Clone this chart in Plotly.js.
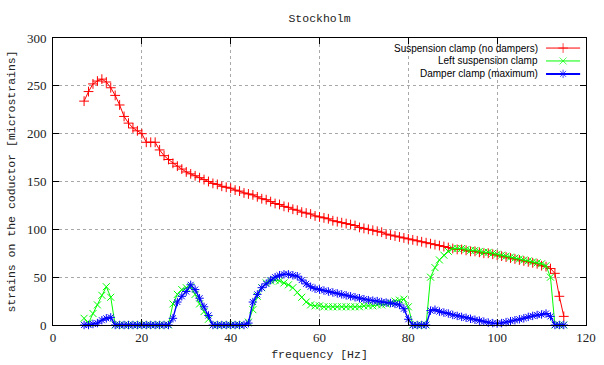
<!DOCTYPE html>
<html>
<head>
<meta charset="utf-8">
<script src="https://cdn.plot.ly/plotly-3.0.1.min.js"></script>
<style>html,body{margin:0;padding:0;background:#fff;}#chart{width:604px;height:365px;}</style>
</head>
<body>
<div id="chart"></div>
<script>
// frequency [Hz]
var freq = [7,8,9,10,11,12,13,14,15,16,
  17,18,19,20,21,22,23,24,25,26,
  27,28,29,30,31,32,33,34,35,36,
  37,38,39,40,41,42,43,44,45,46,
  47,48,49,50,51,52,53,54,55,56,
  57,58,59,60,61,62,63,64,65,66,
  67,68,69,70,71,72,73,74,75,76,
  77,78,79,80,81,82,83,84,85,86,
  87,88,89,90,91,92,93,94,95,96,
  97,98,99,100,101,102,103,104,105,106,
  107,108,109,110,111,112,113,114,115];

// Suspension clamp (no dampers)
var suspension = [234,244,252,255,257,254,248,240,230,218,
  211,206,203,200,191,191,191,183,177,173,
  169,166,163,160,158,156,154,152,150,148,
  147,145,144,143,141,140,138,137,136,134,
  132,131,129,127,126,124,123,121,120,118,
  117,116,114,113,112,111,109,108,107,106,
  105,104,102,101,100,99,98,97,95,94,
  93,92,91,90,89,88,87,86,85,84,
  83,82,81,80,79,79,78,77,77,76,
  75,75,74,73,72,71,70,69,68,67,
  66,65,64,62,61,59,54,30,9];

// Left suspension clamp
var leftClamp = [7,2,12,21,31,40,29,0,0,0,
  0,0,0,0,0,0,0,0,0,0,
  22,32,37,39,40,32,22,14,6,0,
  0,0,0,0,0,0,0,3,16,30,
  39,44,46,47,46,44,42,39,34,29,
  24,21,20,20,19,19,19,19,19,19,
  19,19,19,20,20,20,21,21,22,23,
  25,26,27,19,0,0,0,0,50,60,
  68,73,77,80,80,80,79,78,78,77,
  76,76,75,74,73,72,71,70,69,68,
  67,66,65,64,62,50,0,0,0];

// Damper clamp (maximum)
var damper = [0,0,1,2,5,7,8,0,0,0,
  0,0,0,0,0,0,0,0,0,0,
  7,24,30,35,42,37,28,19,10,0,
  0,0,0,0,0,0,0,2,24,32,
  39,43,47,50,52,53,53,52,51,47,
  43,40,38,37,36,35,34,33,32,31,
  30,29,28,27,26,25.5,25,24,23.5,23,
  22,21,17,6,0,0,0,0,15,16,
  14,13,12,10.5,9.5,8.5,7.5,6.5,5.5,4.5,
  3.5,2.5,2,1.5,2,3,4,5,6,7,
  8.5,9.5,10.5,11,12,9,0,0,0];

var seriesNames = ["Suspension clamp (no dampers)", "Left suspension clamp", "Damper clamp (maximum)"];
var xTicks = [0,20,40,60,80,100,120];
var yTicks = [0,50,100,150,200,250,300];

var colors = ["#ff0000", "#00ff00", "#0000ff"];
var symbols = ["cross-thin-open", "x-thin-open", "asterisk-open"];
var widths = [1, 1, 1.4];
var values = [suspension, leftClamp, damper];

var traces = [];
for (var i = 0; i < 3; i++) {
  traces.push({
    x: freq, y: values[i], type: "scatter", mode: "lines+markers",
    name: seriesNames[i], showlegend: false, cliponaxis: false,
    line: {color: colors[i], width: widths[i]},
    marker: {symbol: symbols[i], size: 7, color: colors[i], line: {color: colors[i], width: 1}}
  });
}

// key samples (gnuplot-style key: text, then sample to the right)
var keyRows = [0.965, 0.920, 0.875];
var annotations = [];
for (var k = 0; k < 3; k++) {
  traces.push({
    x: [0.925, 0.957, 0.989], y: [keyRows[k], keyRows[k], keyRows[k]],
    xaxis: "x2", yaxis: "y2", type: "scatter", mode: "lines+markers",
    showlegend: false, hoverinfo: "skip", cliponaxis: false,
    line: {color: colors[k], width: k === 2 ? 2 : 1},
    marker: {symbol: symbols[k], size: [0, 7, 0], color: colors[k], line: {color: colors[k], width: 1}}
  });
  annotations.push({
    xref: "paper", yref: "paper", x: 0.914, y: keyRows[k], xanchor: "right", yanchor: "middle",
    text: seriesNames[k], showarrow: false,
    font: {family: "'Liberation Sans', Arial, sans-serif", size: 10, color: "#000"}
  });
}

var serif = "'Liberation Serif', 'Times New Roman', 'DejaVu Serif', serif";
var mono = "'Liberation Mono', 'Courier New', monospace";

var axisCommon = {
  showline: true, linecolor: "#000", linewidth: 1, mirror: "ticks",
  ticks: "inside", ticklen: 6, tickcolor: "#000", tickwidth: 1,
  showgrid: true, gridcolor: "#a8a8a8", griddash: "dot", gridwidth: 1,
  zeroline: false, automargin: false,
  tickfont: {family: serif, size: 13, color: "#222"}
};

var layout = {
  width: 604, height: 365,
  margin: {l: 53, r: 18, t: 38, b: 40},
  paper_bgcolor: "#fff", plot_bgcolor: "#fff",
  font: {family: serif},
  title: {text: "Stockholm", x: 0.529, xanchor: "center", y: 0.95, yanchor: "middle",
    font: {family: mono, size: 11.5, color: "#222"}},
  xaxis: Object.assign({}, axisCommon, {
    range: [0, 120], tickvals: xTicks, ticktext: xTicks.map(String),
    title: {text: "frequency [Hz]", standoff: 6,
      font: {family: mono, size: 11.5, color: "#222"}}
  }),
  yaxis: Object.assign({}, axisCommon, {
    range: [0, 300], tickvals: yTicks, ticktext: yTicks.map(String),
    ticklabelstandoff: 3,
    title: {text: "strains on the coductor [microstrains]", standoff: 8,
      font: {family: mono, size: 11.5, color: "#222"}}
  }),
  xaxis2: {overlaying: "x", range: [0, 1], visible: false, fixedrange: true},
  yaxis2: {overlaying: "y", range: [0, 1], visible: false, fixedrange: true},
  annotations: annotations,
  showlegend: false
};

Plotly.newPlot("chart", traces, layout, {displayModeBar: false, staticPlot: true});
</script>
</body>
</html>
